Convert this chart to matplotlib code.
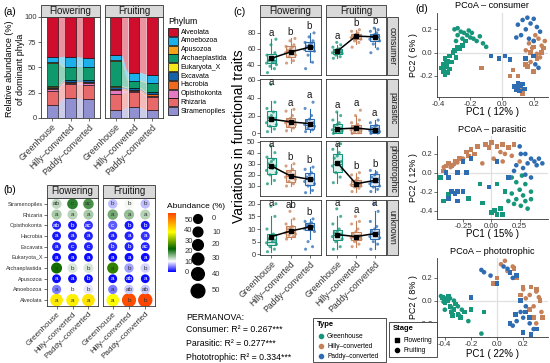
import matplotlib
matplotlib.use("Agg")
import numpy as np
import matplotlib.pyplot as plt
from matplotlib.patches import Rectangle, Polygon
from matplotlib.colors import LinearSegmentedColormap, Normalize

plt.rcParams['font.family'] = ['Liberation Sans', 'DejaVu Sans']

W, H = 550, 363
fig = plt.figure(figsize=(5.5, 3.63), dpi=100)


def px_axes(x0, y0, x1, y1):
    return fig.add_axes([x0 / W, 1 - y1 / H, (x1 - x0) / W, (y1 - y0) / H])


# ---------------- data ----------------
types = ["Greenhouse", "Hilly–converted", "Paddy–converted"]
stages = ["Flowering", "Fruiting"]
type_colors = ["#16967a", "#c5825a", "#2f6db3"]

phyla = ["Alveolata", "Amoebozoa", "Apusozoa", "Archaeplastida", "Eukaryota_X",
         "Excavata", "Hacrobia", "Opisthokonta", "Rhizaria", "Stramenopiles"]
phylum_colors = ["#cf0d2d", "#1cb0ea", "#f7a21b", "#0e9a6c", "#f4e81c",
                 "#1662a8", "#f06a1e", "#e47ac2", "#e8696a", "#9191d1"]

# relative abundance: Flowering G/H/P, Fruiting G/H/P
alveolata = [40, 39.5, 40.5, 38, 55, 57]
amoebozoa = [5, 10, 9, 5, 8, 8]
apusozoa = [0.5, 0.5, 0.5, 0.5, 0.5, 0.5]
archaeplastida = [23, 12, 12, 25, 6.5, 8.5]
eukaryota_x = [0.5, 0.5, 0.5, 0.5, 0.5, 0.5]
excavata = [1.5, 1.5, 1.5, 2, 1.5, 1.5]
hacrobia = [1, 1.5, 1.5, 1.5, 1.5, 2]
opisthokonta = [1.5, 1, 2, 3.5, 1, 1]
rhizaria = [14, 13.5, 14, 16.5, 15, 13.5]
stramenopiles = [13, 20, 18.5, 7.5, 10.5, 7.5]
abund = [alveolata, amoebozoa, apusozoa, archaeplastida, eukaryota_x,
         excavata, hacrobia, opisthokonta, rhizaria, stramenopiles]

bubble_letters = [
    ["a", "a", "a", "a", "b", "b"],
    ["a", "b", "b", "a", "ab", "ab"],
    ["a", "a", "b", "a", "ab", "a"],
    ["a", "b", "b", "a", "b", "b"],
    ["a", "a", "a", "a", "a", "a"],
    ["a", "c", "c", "b", "b", "ac"],
    ["a", "a", "a", "a", "a", "a"],
    ["ab", "b", "ac", "c", "b", "b"],
    ["a", "a", "a", "a", "a", "a"],
    ["ab", "c", "ac", "b", "b", "b"],
]

traits = ["consumer", "parasitic", "phototrophic", "unknown"]
# box stats per group: (q1, median, q3, whisker low, whisker high)
consumer_box = [[(42, 46, 53, 35, 72), (50, 57, 63, 42, 73), (57, 62, 69, 43, 80)],
                [(53, 56, 60, 48, 65), (72, 76, 79, 66, 84), (70, 75, 79, 62, 86)]]
parasitic_box = [[(8, 15, 25, 2, 36), (7, 13, 17, 3, 27), (5, 10, 16, 2, 27)],
                 [(1, 5, 11, 0, 24), (1, 5, 10, 0, 20), (1, 3, 9, 0, 15)]]
photo_box = [[(21, 27, 35, 12, 46), (14, 19, 24, 10, 30), (11, 16, 22, 4, 27)],
             [(23, 30, 39, 13, 48), (10, 12, 15, 5, 22), (10, 14, 21, 5, 24)]]
unknown_box = [[(3.5, 5, 8, 1, 15), (7, 9, 11, 6, 14), (9.5, 11, 12.5, 6, 14)],
               [(5.5, 7.5, 9.5, 2, 15), (5.5, 7, 9, 3, 13), (6, 8, 10, 2, 17)]]
consumer_mean = [[48, 56, 62], [57, 76, 75]]
parasitic_mean = [[16, 13, 11], [5, 6, 4]]
photo_mean = [[28, 19, 16], [31, 12, 15]]
unknown_mean = [[7, 9.2, 10.8], [7.8, 7, 8.2]]

consumer_pts = [
    [[30, 35, 38, 40, 42, 43, 44, 45, 46, 48, 52, 55, 65, 72],
     [42, 45, 50, 52, 55, 56, 57, 58, 60, 62, 63, 65, 70, 73],
     [35, 43, 52, 57, 59, 60, 62, 63, 65, 67, 68, 70, 75, 80]],
    [[48, 50, 52, 54, 55, 56, 57, 58, 59, 60, 62, 65, 68],
     [62, 68, 70, 72, 74, 75, 76, 77, 78, 80, 82, 84],
     [55, 60, 66, 70, 72, 74, 75, 76, 78, 80, 82, 84, 86]]]
parasitic_pts = [
    [[2, 5, 8, 10, 12, 15, 17, 18, 20, 24, 28, 35, 55],
     [3, 6, 8, 10, 12, 13, 14, 15, 17, 20, 25, 27],
     [2, 4, 6, 8, 10, 11, 12, 14, 16, 20, 28, 35]],
    [[0, 1, 2, 3, 4, 5, 6, 8, 10, 12, 15, 20, 24],
     [0, 1, 2, 3, 4, 5, 6, 7, 8, 10, 12, 15, 20, 26],
     [0, 0.5, 1, 2, 3, 4, 5, 6, 8, 9, 12, 15]]]
photo_pts = [
    [[12, 15, 20, 22, 24, 26, 28, 30, 32, 34, 36, 40, 46],
     [10, 12, 14, 16, 18, 19, 20, 22, 23, 25, 28, 30],
     [4, 6, 10, 12, 14, 15, 16, 18, 20, 22, 25, 27]],
    [[13, 18, 22, 25, 28, 30, 32, 35, 37, 40, 43, 48],
     [5, 8, 9, 10, 11, 12, 13, 14, 15, 17, 20, 22],
     [5, 7, 9, 10, 12, 14, 16, 18, 20, 22, 24]]]
unknown_pts = [
    [[1, 2, 3, 4, 4.5, 5, 5.5, 6, 7, 8, 10, 15, 19, 20],
     [6, 7, 7.5, 8, 8.5, 9, 9.5, 10, 10.5, 11, 12, 14, 17],
     [2, 3, 5, 9, 10, 10.5, 11, 11.5, 12, 12.5, 13, 14]],
    [[2, 3, 5, 6, 7, 7.5, 8, 8.5, 9, 10, 12, 15, 18],
     [3, 4, 5, 6, 6.5, 7, 7.5, 8, 9, 10, 12, 13, 15],
     [2, 4, 5, 6.5, 7, 8, 8.5, 9, 10, 11, 13, 17, 20]]]
trait_letters = [
    [["a", "b", "b"], ["a", "b", "b"]],
    [["a", "a", "a"], ["a", "a", "a"]],
    [["a", "b", "b"], ["a", "b", "b"]],
    [["a", "ab", "b"], ["a", "a", "a"]]]

# PCoA scores (PC1, PC2)
cons_gh_flow = [(-0.38, -0.13), (-0.37, -0.1), (-0.37, -0.16), (-0.36, -0.05), (-0.36, -0.19), (-0.35, -0.08),
                (-0.35, -0.12), (-0.34, -0.17), (-0.33, -0.03), (-0.33, -0.14), (-0.32, -0.08), (-0.31, 0.0),
                (-0.3, 0.02), (-0.29, -0.04), (-0.28, 0.05), (-0.27, 0.03), (-0.25, 0.06), (-0.23, 0.1),
                (-0.36, -0.1), (-0.34, -0.07)]
cons_gh_fruit = [(-0.3, 0.2), (-0.28, 0.15), (-0.28, 0.21), (-0.26, 0.18), (-0.25, 0.12), (-0.24, 0.17),
                 (-0.22, 0.15), (-0.21, 0.19), (-0.2, 0.13), (-0.19, 0.17), (-0.18, 0.12), (-0.16, 0.1),
                 (-0.14, 0.14), (-0.12, 0.08), (-0.1, 0.05), (-0.29, 0.1)]
cons_hc_flow = [(-0.13, -0.13), (0.05, -0.2), (0.07, -0.15), (0.1, -0.2), (0.13, -0.35), (0.15, -0.1),
                (0.16, -0.12), (0.18, 0.0), (0.2, 0.05), (0.2, -0.16), (0.22, -0.05), (0.25, 0.0),
                (0.26, 0.04), (0.12, -0.32)]
cons_hc_fruit = [(0.15, 0.02), (0.17, 0.08), (0.19, 0.04), (0.2, 0.1), (0.21, 0.15), (0.22, -0.01),
                 (0.23, 0.12), (0.25, 0.06), (0.27, 0.1), (0.24, -0.04), (0.18, -0.08)]
cons_pc_flow = [(-0.07, -0.03), (-0.02, -0.05), (0.02, -0.03), (0.05, -0.06), (0.08, -0.29), (0.1, -0.3),
                (0.1, -0.26), (0.11, -0.33), (0.12, -0.28), (0.14, -0.31), (0.15, -0.05), (0.2, -0.03),
                (0.09, -0.32), (0.13, -0.27)]
cons_pc_fruit = [(0.09, 0.13), (0.1, 0.24), (0.12, 0.15), (0.13, 0.28), (0.15, 0.2), (0.16, 0.3),
                 (0.17, 0.12), (0.18, 0.25), (0.2, 0.29), (0.2, 0.1), (0.22, 0.22), (0.24, 0.18),
                 (0.21, -0.1), (0.23, -0.13)]

para_gh_flow = [(-0.45, -0.05), (-0.42, -0.3), (-0.38, -0.23), (-0.2, -0.27), (-0.1, -0.12), (-0.08, -0.32),
                (0.0, -0.42), (0.03, -0.4), (0.05, -0.44), (0.05, -0.12), (0.08, -0.38), (0.1, -0.44),
                (0.12, -0.2)]
para_gh_fruit = [(0.15, -0.3), (0.18, -0.22), (0.18, -0.05), (0.2, -0.33), (0.22, -0.28), (0.22, -0.1),
                 (0.25, -0.18), (0.26, -0.35), (0.27, -0.03), (0.28, -0.24), (0.3, -0.3), (0.3, -0.12),
                 (0.32, -0.38), (0.35, -0.2), (0.35, -0.28)]
para_hc_flow = [(-0.42, 0.02), (-0.4, 0.07), (-0.38, 0.1), (-0.35, 0.08), (-0.32, 0.12), (-0.28, 0.15),
                (-0.22, 0.22), (-0.2, 0.18), (-0.18, 0.25), (-0.15, 0.2), (-0.12, 0.28), (-0.05, 0.3),
                (-0.02, 0.27), (0.0, 0.32), (0.05, 0.28), (0.1, 0.3), (0.15, 0.27), (0.2, 0.3)]
para_hc_fruit = [(-0.42, 0.06), (-0.36, 0.06), (-0.33, 0.09), (-0.3, 0.11), (-0.25, 0.15), (-0.08, 0.1),
                 (0.02, 0.15), (0.08, 0.22), (0.1, 0.12), (0.12, 0.2), (0.18, 0.18), (0.25, 0.12)]
para_pc_flow = [(-0.4, 0.0), (-0.38, -0.05), (-0.38, -0.27), (-0.35, -0.2), (-0.32, -0.22), (-0.3, -0.2),
                (-0.3, 0.0), (-0.3, -0.3), (-0.25, -0.2), (-0.25, 0.12), (-0.22, 0.0), (-0.18, 0.15),
                (-0.02, -0.15), (0.05, 0.12), (0.15, -0.05)]
para_pc_fruit = [(0.2, 0.02), (0.22, 0.08), (0.25, 0.28), (0.26, 0.2), (0.28, 0.05), (0.3, 0.2),
                 (0.3, -0.02), (0.32, 0.1), (0.35, 0.15), (0.35, -0.05), (0.38, 0.12), (0.4, 0.08),
                 (0.42, 0.15), (0.45, 0.1)]

photo_gh_flow = [(-0.42, 0.03), (-0.4, -0.02), (-0.38, 0.0), (-0.37, 0.04), (-0.36, -0.05), (-0.35, -0.1),
                 (-0.34, -0.13), (-0.33, -0.08), (-0.32, -0.03), (-0.3, -0.12), (-0.28, -0.15), (-0.25, -0.1),
                 (-0.2, -0.08), (-0.1, -0.1)]
photo_gh_fruit = [(-0.43, 0.04), (-0.41, -0.01), (-0.4, -0.08), (-0.39, 0.02), (-0.36, 0.02), (-0.35, -0.06),
                  (-0.33, 0.0), (-0.3, -0.05), (-0.29, -0.13), (-0.27, -0.08), (-0.22, -0.18), (-0.12, -0.29)]
photo_hc_flow = [(-0.03, 0.15), (0.0, 0.2), (0.13, 0.28), (0.15, 0.2), (0.18, 0.05), (0.2, 0.12),
                 (0.25, -0.08), (0.26, 0.12), (0.28, -0.15), (0.3, 0.1), (0.33, 0.0), (0.35, -0.15)]
photo_hc_fruit = [(0.03, 0.32), (0.06, 0.35), (0.08, 0.26), (0.12, 0.3), (0.2, 0.1), (0.22, 0.02),
                  (0.25, 0.05), (0.28, -0.05), (0.3, 0.08), (0.3, -0.2), (0.32, 0.03), (0.34, -0.1)]
photo_pc_flow = [(-0.2, 0.03), (0.0, 0.15), (0.1, 0.25), (0.1, -0.2), (0.14, -0.12), (0.15, 0.22),
                 (0.18, 0.0), (0.2, -0.28), (0.22, -0.1), (0.25, -0.15), (0.26, -0.3), (0.3, -0.25)]
photo_pc_fruit = [(-0.12, 0.27), (-0.1, 0.25), (-0.05, 0.22), (0.05, 0.3), (0.08, 0.28), (0.12, 0.2),
                  (0.12, -0.22), (0.15, -0.18), (0.18, -0.1), (0.2, -0.15), (0.22, -0.05), (0.25, -0.2),
                  (0.28, -0.25)]

pcoa_titles = ["PCoA – consumer", "PCoA – parasitic", "PCoA – phototrophic"]
pc1_labels = ["PC1 ( 12% )", "PC1 ( 15% )", "PC1 ( 22% )"]
pc2_labels = ["PC2 ( 6% )", "PC2 ( 12% )", "PC2 ( 8% )"]
permanova = ["Consumer: R² = 0.267***", "Parasitic: R² = 0.277***", "Phototrophic: R² = 0.334***"]

# ---------------- helpers ----------------
STRIP = "#d9d9d9"
EDGE = "#333333"
ov = fig.add_axes([0, 0, 1, 1], zorder=10)
ov.set_xlim(0, W)
ov.set_ylim(H, 0)
ov.axis("off")


def strip(x0, y0, x1, y1, label, rot=0, fs=7):
    ov.add_patch(Rectangle((x0, y0), x1 - x0, y1 - y0, facecolor=STRIP,
                           edgecolor=EDGE, linewidth=0.6))
    ov.text((x0 + x1) / 2, (y0 + y1) / 2, label, ha="center", va="center",
            fontsize=fs, rotation=rot, color="#1a1a1a")


def frame(ax, fs=5.5):
    for sp in ax.spines.values():
        sp.set_color(EDGE)
        sp.set_linewidth(0.6)
    ax.tick_params(length=2, width=0.5, labelsize=fs, pad=1.2, colors="#333333",
                   labelcolor="#333333")


# ---------------- (a) stacked bars ----------------
ov.text(3, 12, "(a)", fontsize=7.5, va="center")
a_cols = [(41, 100), (105, 163)]
t = np.linspace(0, 1, 25)
sm = (1 - np.cos(np.pi * t)) / 2
for s, (x0, x1) in enumerate(a_cols):
    ax = px_axes(x0, 17, x1, 118)
    strip(x0, 5, x1, 17, stages[s])
    bottoms = np.zeros(3)
    for k in range(len(phyla) - 1, -1, -1):
        vals = np.array(abund[k][s * 3:(s + 1) * 3], dtype=float)
        ax.bar(range(3), vals, bottom=bottoms, width=0.6, color=phylum_colors[k],
               edgecolor="black", linewidth=0.4, zorder=3)
        tops = bottoms + vals
        for i in range(2):
            xs = i + 0.3 + 0.4 * t
            yb = bottoms[i] + (bottoms[i + 1] - bottoms[i]) * sm
            yt = tops[i] + (tops[i + 1] - tops[i]) * sm
            poly = np.vstack([np.column_stack([xs, yt]), np.column_stack([xs[::-1], yb[::-1]])])
            ax.add_patch(Polygon(poly, closed=True, facecolor=phylum_colors[k],
                                 edgecolor="none", alpha=0.45, zorder=2))
        bottoms = tops
    ax.set_xlim(-0.6, 2.6)
    ax.set_ylim(0, 100)
    ax.set_xticks(range(3))
    ax.set_xticklabels(types, rotation=45, ha="right", rotation_mode="anchor")
    ax.set_yticks([0, 25, 50, 75, 100])
    frame(ax)
    ax.tick_params(axis="x", labelsize=6.2)
    if s == 1:
        ax.set_yticklabels([])
        ax.tick_params(axis="y", length=0)
ov.text(15, 69, "Relative abundance (%)\nof dominant phyla", rotation=90, ha="center",
        va="center", fontsize=6.5, multialignment="center", linespacing=1.15)

ov.text(168, 22, "Phylum", fontsize=6.3, va="center")
for k, name in enumerate(phyla):
    y = 28 + k * 8.8
    ov.add_patch(Rectangle((168, y), 9.5, 8, facecolor=phylum_colors[k],
                           edgecolor="black", linewidth=0.5))
    ov.text(180.5, y + 4, name, fontsize=5, va="center")

# ---------------- (b) bubble plot ----------------
ov.text(3, 190, "(b)", fontsize=7.5, va="center")
b_cols = [(47, 98), (103, 155)]
cmap = LinearSegmentedColormap.from_list(
    "ab", [(0, "#0000ff"), (10 / 56, "#ffffff"), (22 / 56, "#006400"),
           (38 / 56, "#ffff00"), (1, "#ff4500")])
norm = Normalize(0, 56)


def bsize(v):
    return (6.3 + 3.9 * np.asarray(v) / 55.0) ** 2


for s, (x0, x1) in enumerate(b_cols):
    ax = px_axes(x0, 198, x1, 306)
    strip(x0, 185, x1, 198, stages[s])
    for k in range(len(phyla)):
        vals = abund[k][s * 3:(s + 1) * 3]
        ax.scatter(range(3), [k] * 3, s=bsize(vals), c=vals, cmap=cmap, norm=norm,
                   edgecolors="none", zorder=3)
        for i in range(3):
            lc = "white" if vals[i] < 4 else "#333333"
            ax.text(i, k, bubble_letters[k][s * 3 + i], ha="center", va="center",
                    fontsize=4.6, color=lc, zorder=4)
    ax.set_xlim(-0.6, 2.6)
    ax.set_ylim(-0.55, 9.55)
    ax.set_xticks(range(3))
    ax.set_xticklabels(types, rotation=45, ha="right", rotation_mode="anchor")
    ax.set_yticks(range(len(phyla)))
    frame(ax)
    ax.tick_params(axis="x", labelsize=5.9)
    if s == 0:
        ax.set_yticklabels(phyla, fontsize=4)
    else:
        ax.set_yticklabels([])
        ax.tick_params(axis="y", length=0)

ov.text(167, 206, "Abundance (%)", fontsize=6, va="center")
cax = px_axes(168, 213, 176, 272)
cax.imshow(np.linspace(0, 56, 200)[:, None], aspect="auto", cmap=cmap, norm=norm,
           origin="lower", extent=[0, 1, 0, 56])
cax.set_xticks([])
cax.set_yticks([0, 10, 20, 30, 40, 50])
cax.yaxis.tick_right()
cax.tick_params(length=0, labelsize=5.5, pad=6, labelcolor="#333333")
for sp in cax.spines.values():
    sp.set_visible(False)

size_levels = [0, 10, 20, 30, 40, 50]
size_y = [219, 232, 245, 259, 274, 291]
ov.scatter([198] * 6, size_y, s=bsize(size_levels), color="black")
for lv, y in zip(size_levels, size_y):
    ov.text(212, y, str(lv), fontsize=5.5, va="center", color="#333333")

ov.text(186, 317, "PERMANOVA:", fontsize=6.3, va="center")
for j, line in enumerate(permanova):
    ov.text(186, 330 + j * 14, line, fontsize=6.3, va="center")

# ---------------- (c) functional traits ----------------
ov.text(233, 12, "(c)", fontsize=7.5, va="center")
c_cols = [(260, 321), (326, 386)]
c_rows = [(17, 75), (79, 137), (141, 196), (200, 255)]
c_ylims = [(27, 100), (-4, 61), (1, 50.5), (-0.3, 21.5)]
c_yticks = [[40, 60, 80], [0, 20, 40, 60], [10, 20, 30, 40, 50], [0, 5, 10, 15, 20]]
boxes = [consumer_box, parasitic_box, photo_box, unknown_box]
means = [consumer_mean, parasitic_mean, photo_mean, unknown_mean]
points = [consumer_pts, parasitic_pts, photo_pts, unknown_pts]
jit = np.array([-0.16, 0.12, -0.06, 0.2, -0.2, 0.04, 0.16, -0.12, 0.0, 0.08, -0.18, 0.14, -0.02, 0.18])
stage_markers = ["s", "o"]

for r, trait in enumerate(traits):
    y0, y1 = c_rows[r]
    for s, (x0, x1) in enumerate(c_cols):
        ax = px_axes(x0, y0, x1, y1)
        lo, hi = c_ylims[r]
        for i in range(3):
            pts = points[r][s][i]
            ax.scatter(i + jit[:len(pts)] * 1.3, pts, s=5, color=type_colors[i],
                       alpha=0.75, edgecolors="none", zorder=2)
            q1, med, q3, wl, wh = boxes[r][s][i]
            st = dict(med=med, q1=q1, q3=q3, whislo=wl, whishi=wh, fliers=[])
            c = type_colors[i]
            ax.bxp([st], positions=[i], widths=0.5, showfliers=False, patch_artist=True,
                   boxprops=dict(facecolor=c + "22", edgecolor=c, linewidth=0.8),
                   medianprops=dict(color=c, linewidth=0.8),
                   whiskerprops=dict(color=c, linewidth=0.8),
                   capprops=dict(linewidth=0), manage_ticks=False)
            ax.text(i, min(max(pts) + 0.03 * (hi - lo), hi - 0.14 * (hi - lo)),
                    trait_letters[r][s][i], ha="center", va="bottom", fontsize=7,
                    color="#1a1a1a", zorder=5)
        ax.plot(range(3), means[r][s], color="black", lw=1.1, marker="s",
                ms=3.2, zorder=6)
        ax.set_xlim(-0.6, 2.6)
        ax.set_ylim(lo, hi)
        ax.set_yticks(c_yticks[r])
        ax.set_xticks(range(3))
        frame(ax)
        if r == 3:
            ax.set_xticklabels(types, rotation=45, ha="right", rotation_mode="anchor")
            ax.tick_params(axis="x", labelsize=6.2)
        else:
            ax.set_xticklabels([])
            ax.tick_params(axis="x", length=0)
        if s == 1:
            ax.set_yticklabels([])
            ax.tick_params(axis="y", length=0)
        if r == 0:
            strip(x0, 5, x1, 17, stages[s])
    strip(387, y0, 398, y1, trait, rot=-90, fs=6.2)

ov.text(239, 136, "Variations in functional traits", rotation=90, ha="center",
        va="center", fontsize=10)

# legends for (c)/(d)
ov.add_patch(Rectangle((313, 318), 73, 44, facecolor="white", edgecolor=EDGE, linewidth=0.6))
ov.text(317, 325, "Type", fontsize=5.5, fontweight="bold", va="center")
for i, name in enumerate(types):
    ov.scatter([321], [336 + i * 10], s=9, color=type_colors[i])
    ov.text(327, 336 + i * 10, name, fontsize=4.8, va="center")
ov.add_patch(Rectangle((389, 322), 48, 35, facecolor="white", edgecolor=EDGE, linewidth=0.6))
ov.text(393, 329, "Stage", fontsize=5.5, fontweight="bold", va="center")
for j, name in enumerate(stages):
    ov.scatter([397], [340 + j * 10], s=9, color="black", marker=stage_markers[j])
    ov.text(403, 340 + j * 10, name, fontsize=4.8, va="center")

# ---------------- (d) PCoA ----------------
ov.text(415, 9, "(d)", fontsize=7.5, va="center")
pcoa_sets = [
    [[cons_gh_flow, cons_gh_fruit], [cons_hc_flow, cons_hc_fruit], [cons_pc_flow, cons_pc_fruit]],
    [[para_gh_flow, para_gh_fruit], [para_hc_flow, para_hc_fruit], [para_pc_flow, para_pc_fruit]],
    [[photo_gh_flow, photo_gh_fruit], [photo_hc_flow, photo_hc_fruit], [photo_pc_flow, photo_pc_fruit]],
]
d_boxes = [(13, 97), (136, 219), (258, 337)]
d_xlims = [(-0.41, 0.29), (-0.48, 0.5), (-0.46, 0.39)]
d_ylims = [(-0.38, 0.34), (-0.49, 0.39), (-0.32, 0.375)]
d_xticks = [[-0.4, -0.2, 0.0, 0.2], [-0.25, 0.0, 0.25], [-0.4, -0.2, 0.0, 0.2]]
d_yticks = [[-0.2, 0.0, 0.2], [-0.4, -0.2, 0.0, 0.2], [-0.2, 0.0, 0.2]]
d_title_y = [6, 129, 251]
d_xlab_y = [112, 234, 354]
for p in range(3):
    y0, y1 = d_boxes[p]
    ax = px_axes(437, y0, 548, y1)
    ax.axhline(0, color="#e0e0e0", lw=0.9, zorder=0)
    ax.axvline(0, color="#e0e0e0", lw=0.9, zorder=0)
    for g in range(3):
        for s in range(2):
            xy = np.array(pcoa_sets[p][g][s])
            ax.scatter(xy[:, 0], xy[:, 1], s=11, marker=stage_markers[s],
                       color=type_colors[g], edgecolors="none", zorder=3)
    ax.set_xlim(*d_xlims[p])
    ax.set_ylim(*d_ylims[p])
    ax.set_xticks(d_xticks[p])
    ax.set_yticks(d_yticks[p])
    ax.set_xticklabels([f"{v:.2f}" if p == 1 else f"{v:.1f}" for v in d_xticks[p]])
    ax.set_yticklabels([f"{v:.1f}" for v in d_yticks[p]])
    frame(ax, fs=5.6)
    ax.tick_params(axis="x", pad=0.8)
    ax.spines["top"].set_visible(False)
    ax.spines["right"].set_visible(False)
    ov.text(492, d_title_y[p], pcoa_titles[p], fontsize=6.6, ha="center", va="center")
    ov.text(492, d_xlab_y[p], pc1_labels[p], fontsize=7, ha="center", va="center")
    ov.text(414, (y0 + y1) / 2, pc2_labels[p], fontsize=6.4, ha="center", va="center",
            rotation=90)

fig.savefig("out.png", dpi=100)
